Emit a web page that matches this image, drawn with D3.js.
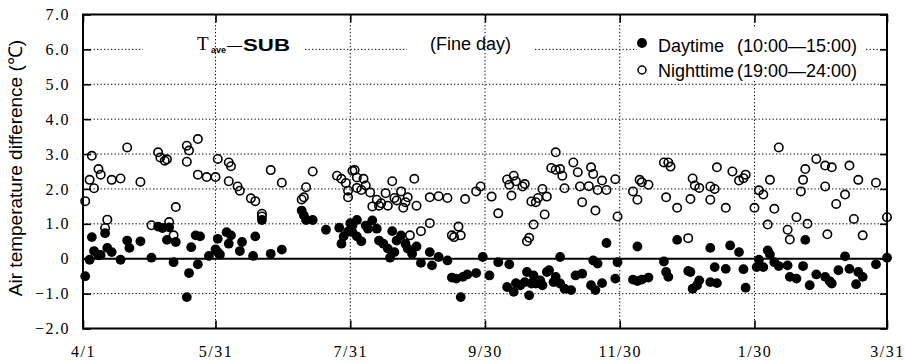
<!DOCTYPE html>
<html>
<head>
<meta charset="utf-8">
<script src="https://cdn.jsdelivr.net/npm/d3@7"></script>
<style>
  body { margin: 0; background: #fff; }
  svg { display: block; }
</style>
</head>
<body>
<svg id="chart" width="905" height="363"></svg>
<script>
// axis ticks (days counted from 4/1)
const xTickDays = [0, 60, 121, 182, 243, 304, 364];
const xTickLabels = ["4/1", "5/31", "7/31", "9/30", "11/30", "1/30", "3/31"];
const yTicks = [7, 6, 5, 4, 3, 2, 1, 0, -1, -2];

// Daytime (10:00-15:00), filled circles
const dayDays = [1, 3, 4, 5, 7, 8, 10, 11, 13, 17, 20, 21, 26, 31, 34, 36, 38, 39, 41, 42, 47, 48, 49, 51, 53, 52, 57, 60, 61,
  61, 62, 65, 66, 67, 71, 72, 77, 78, 81, 85, 90, 99, 100, 101, 104, 110, 116, 117, 118, 120, 121, 122,
  122, 124, 124, 126, 128, 129, 131, 133, 134, 136, 138, 139, 140, 141, 142, 144, 146, 147, 149, 151, 153, 157, 158, 161, 165,
  167, 169, 171, 172, 174, 178, 181, 184,
  188, 193, 192, 195, 196, 198, 200, 201, 202, 203, 204, 205, 207, 208, 210, 211, 213, 214, 216, 216, 218, 221, 223, 226,
  230, 231, 232, 233, 235, 237, 241, 242,
  249, 251, 251, 253, 256, 263, 264, 265, 269, 274, 275, 276, 278, 279, 284, 284, 286, 287, 291, 293, 297, 299, 300, 305,
  306, 308, 310, 311, 313, 315, 319, 320, 323, 326, 327, 329, 332, 336, 338, 339, 342, 345, 347, 350, 351, 353, 359, 364];
const dayVals = [-0.50, -0.03, 0.62, 0.22, 0.10, 0.11, 0.73, 0.31, 0.19, -0.03, 0.52, 0.31, 0.50, 0.03, 0.92, 0.88, 0.54, 0.90, -0.10, 0.48, -1.10, -0.41, 0.33, 0.67, 0.64, -0.16, 0.08, 0.27, 0.57,
  0.19, 0.12, 0.76, 0.43, 0.67, 0.22, 0.48, 0.08, 0.64, 1.11, 0.14, 0.26, 1.38, 1.24, 1.11, 1.11, 0.83, 0.89, 0.43, 0.64, 0.78, 1.02, 0.76,
  0.95, 1.11, 0.64, 0.50, 0.95, 0.86, 1.10, 0.86, 0.52, 0.43, 0.29, 0.03, 0.79, 0.19, 0.52, 0.67, 0.43, 0.29, 0.14, 0.35, -0.12, 0.19, -0.19, 0.05, -0.05,
  -0.54, -0.57, -1.10, -0.52, -0.45, -0.41, 0.05, -0.48,
  -0.10, -0.16, -0.81, -0.95, -0.70, -0.76, -0.67, -0.38, -1.05, -0.71, -0.48, -0.71, -0.62, -0.76, -0.38, -0.33, -0.67, -0.52, 0.05, -0.71, -0.86, -0.90, -0.48, -0.43,
  -0.76, -0.05, -0.90, -0.14, -0.70, 0.45, -0.57, -0.10,
  -0.60, 0.35, -0.64, -0.60, -0.54, -0.08, -0.38, -0.52, 0.54, -0.35, -0.38, -0.86, -0.76, -0.62, 0.31, -0.67, -0.24, -0.70, -0.29, 0.38, 0.19, -0.30, -0.83, -0.24,
  -0.03, -0.24, 0.24, 0.12, -0.10, -0.21, -0.19, -0.52, -0.57, -0.21, 0.54, -0.76, -0.45, -0.52, -0.64, -0.71, -0.33, 0.07, -0.29, -0.73, -0.38, -0.52, -0.16, 0.03];

// Nighttime (19:00-24:00), open circles
const nightDays = [1, 4, 3, 5, 7, 8, 11, 10, 13, 17, 20, 26, 31, 34, 35, 37, 38, 39, 41, 42, 47, 47, 48, 52, 52, 56, 60, 61,
  66, 67, 66, 70, 71, 76, 78, 81, 81, 85, 90, 99, 100, 101, 104, 115, 117, 119, 120, 120, 122,
  123, 124, 124, 126, 127, 128, 130, 131, 133, 134, 135, 137, 138, 140, 141, 142, 144, 145, 146, 147, 148, 150, 151, 153, 157, 157,
  161, 165, 167, 168, 170, 171, 173, 178, 180,
  185, 188, 192, 193, 194, 195, 196, 199, 200, 201, 202, 203, 204, 205, 206, 208, 209, 210, 212, 214, 214, 216, 217, 218, 222, 224,
  225, 226, 229, 230, 231, 232, 233, 235, 237, 241, 242,
  249, 251, 252, 253, 256, 264, 263, 265, 266, 269, 274, 275, 276, 277, 279, 284, 284, 286, 287, 291, 294, 297, 299, 300, 304, 306,
  308, 310, 311, 313, 315, 319, 320, 323, 325, 326, 327, 328, 332, 336, 336, 337, 339, 341, 345, 347, 349, 351, 353, 359, 364];
const nightVals = [1.65, 2.95, 2.26, 2.02, 2.57, 2.41, 1.12, 0.88, 2.26, 2.30, 3.19, 2.20, 0.96, 3.05, 2.90, 2.81, 2.85, 1.05, 0.67, 1.48, 2.78, 3.24, 3.10, 3.43, 2.41, 2.34, 2.34, 2.86,
  2.76, 2.65, 2.22, 2.07, 1.95, 1.73, 1.65, 1.29, 1.21, 2.54, 2.18, 1.70, 1.76, 2.05, 2.50, 2.38, 2.29, 2.17, 1.95, 1.76, 2.52,
  2.54, 2.33, 2.03, 1.97, 2.29, 2.10, 1.90, 1.50, 1.69, 1.52, 1.59, 1.88, 1.52, 2.22, 1.74, 1.67, 1.93, 1.46, 1.62, 1.76, 0.67, 2.29, 1.52, 0.79, 1.02, 1.76,
  1.79, 1.74, 0.67, 0.62, 0.92, 0.67, 1.71, 1.93, 2.07,
  1.78, 1.30, 2.27, 2.12, 1.81, 2.38, 2.22, 2.07, 2.14, 0.50, 0.60, 1.64, 0.98, 1.62, 1.74, 2.00, 1.27, 1.78, 2.60, 2.55, 3.05, 2.57, 2.38, 2.02, 2.76, 2.48,
  2.07, 1.62, 2.08, 2.62, 2.43, 1.38, 1.97, 2.24, 1.97, 2.28, 1.21,
  1.93, 1.69, 2.26, 2.19, 2.12, 1.76, 2.76, 2.76, 2.64, 1.46, 0.59, 1.71, 2.30, 2.10, 2.03, 2.07, 1.69, 2.00, 2.62, 1.46, 2.50, 2.24, 2.31, 2.41, 1.46, 1.96,
  1.84, 0.98, 2.26, 1.43, 3.19, 0.83, 0.55, 1.19, 1.93, 2.26, 2.57, 1.00, 2.86, 2.67, 2.07, 0.70, 2.62, 1.57, 1.84, 2.67, 1.14, 2.26, 0.67, 2.18, 1.19];

const plot = { left: 83, right: 887, top: 14.5, bottom: 328.5 };
const serif = "'Liberation Serif', 'DejaVu Serif', serif";
const sans = "'Liberation Sans', Arial, sans-serif";

const svg = d3.select("#chart");
const x = d3.scaleLinear().domain([0, 364]).range([plot.left, plot.right]);
const y = d3.scaleLinear().domain([-2, 7]).range([plot.bottom, plot.top]);

// dotted grid
const grid = svg.append("g")
  .attr("stroke", "#000")
  .attr("stroke-width", 1)
  .attr("stroke-dasharray", "1.3,2.2");

grid.selectAll("line.v")
  .data(xTickDays.slice(1, -1))
  .join("line")
  .attr("x1", d => x(d)).attr("x2", d => x(d))
  .attr("y1", plot.top).attr("y2", plot.bottom);

grid.selectAll("line.h")
  .data(yTicks.filter(v => v !== 0 && v !== 6 && v !== 7 && v !== -2))
  .join("line")
  .attr("x1", plot.left).attr("x2", plot.right)
  .attr("y1", d => y(d)).attr("y2", d => y(d));

// the 6.0 line is broken where the title texts sit
const gaps6 = [[plot.left, 143], [305, 407], [535, 637], [866, plot.right]];
grid.selectAll("line.h6")
  .data(gaps6)
  .join("line")
  .attr("x1", d => d[0]).attr("x2", d => d[1])
  .attr("y1", y(6)).attr("y2", y(6));

// legend background hides the grid behind it
svg.append("rect")
  .attr("x", 637).attr("y", 27).attr("width", 229).attr("height", 52)
  .attr("fill", "#fff");

// zero line
svg.append("line")
  .attr("x1", plot.left).attr("x2", plot.right)
  .attr("y1", y(0)).attr("y2", y(0))
  .attr("stroke", "#000").attr("stroke-width", 2);

// axes with inward ticks
const fmtY = d => d === 0 ? "0" : d3.format(".1f")(d);

const axL = svg.append("g")
  .attr("transform", `translate(${plot.left},0)`)
  .call(d3.axisLeft(y).tickValues(yTicks).tickSize(-8).tickPadding(13).tickFormat(fmtY));
const axR = svg.append("g")
  .attr("transform", `translate(${plot.right},0)`)
  .call(d3.axisRight(y).tickValues(yTicks).tickSize(-7).tickFormat(""));
const axB = svg.append("g")
  .attr("transform", `translate(0,${plot.bottom})`)
  .call(d3.axisBottom(x).tickValues(xTickDays).tickSize(-8).tickPadding(17)
    .tickFormat((d, i) => xTickLabels[i]));
const axT = svg.append("g")
  .attr("transform", `translate(0,${plot.top})`)
  .call(d3.axisTop(x).tickValues(xTickDays).tickSize(-8).tickFormat(""));

[axL, axR, axB, axT].forEach(g => {
  g.select(".domain").remove();
  g.selectAll(".tick line").attr("stroke", "#000").attr("stroke-width", 1.6);
  g.selectAll("text")
    .attr("fill", "#000")
    .attr("font-family", serif)
    .attr("font-size", 16)
    .attr("letter-spacing", 1.5);
});

// frame
svg.append("rect")
  .attr("x", plot.left).attr("y", plot.top)
  .attr("width", plot.right - plot.left).attr("height", plot.bottom - plot.top)
  .attr("fill", "none").attr("stroke", "#000").attr("stroke-width", 2);

// points
svg.append("g").selectAll("circle")
  .data(dayDays)
  .join("circle")
  .attr("cx", d => x(d))
  .attr("cy", (d, i) => y(dayVals[i]))
  .attr("r", 4.9)
  .attr("fill", "#000");

svg.append("g").selectAll("circle")
  .data(nightDays)
  .join("circle")
  .attr("cx", d => x(d))
  .attr("cy", (d, i) => y(nightVals[i]))
  .attr("r", 4.2)
  .attr("fill", "none")
  .attr("stroke", "#000")
  .attr("stroke-width", 1.6);

// y axis title
svg.append("text")
  .attr("transform", "translate(22,168) rotate(-90)")
  .attr("text-anchor", "middle")
  .attr("font-family", sans)
  .attr("font-size", 19)
  .text("Air temperature difference (℃)");

// title: T_ave - SUB
const title = svg.append("text").attr("y", 50).attr("fill", "#000");
title.append("tspan").attr("x", 197).attr("font-family", serif).attr("font-size", 19).text("T");
title.append("tspan").attr("x", 211).attr("dy", 3).attr("font-family", sans).attr("font-weight", "bold")
  .attr("font-size", 9).text("ave");
title.append("tspan").attr("x", 227).attr("dy", -3).attr("font-family", sans).attr("font-size", 15).text("—");
title.append("tspan").attr("x", 243).attr("y", 51).attr("font-family", sans).attr("font-weight", 900)
  .attr("font-size", 17).attr("textLength", 47).attr("lengthAdjust", "spacingAndGlyphs").text("SUB");

svg.append("text")
  .attr("x", 430).attr("y", 50)
  .attr("font-family", sans).attr("font-size", 18)
  .text("(Fine day)");

// legend
const legend = svg.append("g").attr("font-family", sans).attr("font-size", 18);
legend.append("circle").attr("cx", 642).attr("cy", 43).attr("r", 5).attr("fill", "#000");
legend.append("text").attr("x", 658).attr("y", 52).text("Daytime");
legend.append("text").attr("x", 737).attr("y", 52).text("(10:00—15:00)");
legend.append("circle").attr("cx", 642).attr("cy", 70).attr("r", 4).attr("fill", "none")
  .attr("stroke", "#000").attr("stroke-width", 1.5);
legend.append("text").attr("x", 658).attr("y", 77).text("Nighttime");
legend.append("text").attr("x", 737).attr("y", 77).text("(19:00—24:00)");
</script>
</body>
</html>
